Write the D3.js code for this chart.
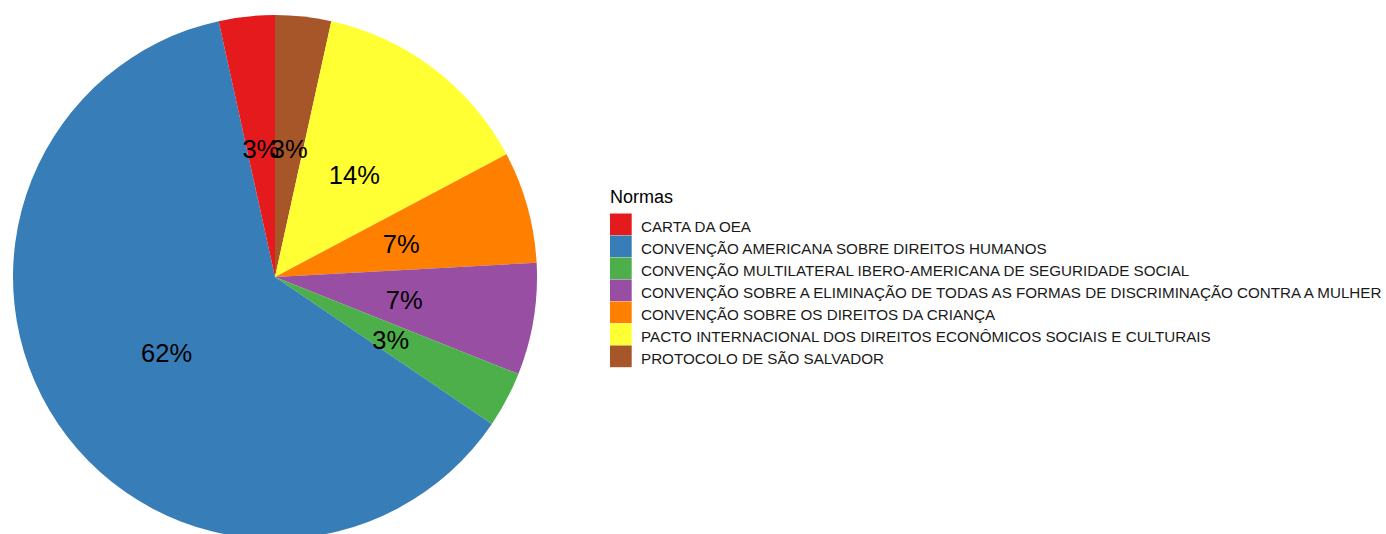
<!DOCTYPE html>
<html><head><meta charset="utf-8">
<script src="https://cdn.jsdelivr.net/npm/d3@7"></script>
<style>body{margin:0;background:#fff}svg{display:block}text{font-family:"Liberation Sans",Arial,sans-serif}</style>
</head><body>
<svg id="c" width="1386" height="534"></svg>
<script>
const categories = [
  "CARTA DA OEA",
  "CONVENÇÃO AMERICANA SOBRE DIREITOS HUMANOS",
  "CONVENÇÃO MULTILATERAL IBERO-AMERICANA DE SEGURIDADE SOCIAL",
  "CONVENÇÃO SOBRE A ELIMINAÇÃO DE TODAS AS FORMAS DE DISCRIMINAÇÃO CONTRA A MULHER",
  "CONVENÇÃO SOBRE OS DIREITOS DA CRIANÇA",
  "PACTO INTERNACIONAL DOS DIREITOS ECONÔMICOS SOCIAIS E CULTURAIS",
  "PROTOCOLO DE SÃO SALVADOR"
];
const counts = [1, 18, 1, 2, 2, 4, 1];
const colors = ["#E41A1C", "#377EB8", "#4DAF4A", "#984EA3", "#FF7F00", "#FFFF33", "#A65628"];
const legendTitle = "Normas";

const svg = d3.select("#c");
const cx = 275, cy = 277, R = 262;
const total = d3.sum(counts);
const color = d3.scaleOrdinal().domain(categories).range(colors);

// ggplot stacks reversed: clockwise from top = last category first
const data = categories.map((c, i) => ({cat: c, v: counts[i]})).reverse();
const pie = d3.pie().value(d => d.v).sort(null);
const arcs = pie(data);
const arc = d3.arc().innerRadius(0).outerRadius(R);
const labelArc = d3.arc().innerRadius(R * 0.5).outerRadius(R * 0.5);

const g = svg.append("g").attr("transform", `translate(${cx},${cy})`);
g.selectAll("path").data(arcs).join("path")
  .attr("d", arc).attr("fill", d => color(d.data.cat));
g.selectAll("text").data(arcs).join("text")
  .attr("transform", d => { const c = labelArc.centroid(d); return `translate(${c[0]},${c[1] + 2})`; })
  .attr("text-anchor", "middle").attr("dominant-baseline", "central")
  .attr("font-size", 25.5).attr("fill", "#000")
  .text(d => Math.round(d.data.v / total * 100) + "%");

const lg = svg.append("g").attr("transform", "translate(610,0)");
lg.append("text").attr("x", 0).attr("y", 203).attr("font-size", 18).attr("fill", "#000").text(legendTitle);
const key = 21.7;
const items = lg.selectAll("g.k").data(categories).join("g").attr("class", "k")
  .attr("transform", (d, i) => `translate(0,${213.5 + i * 22})`);
items.append("rect").attr("width", key).attr("height", key).attr("fill", d => color(d));
items.append("text").attr("x", 31).attr("y", 18)
  .attr("font-size", 15.2).attr("fill", "#1a1a1a").text(d => d);
</script>
</body></html>
